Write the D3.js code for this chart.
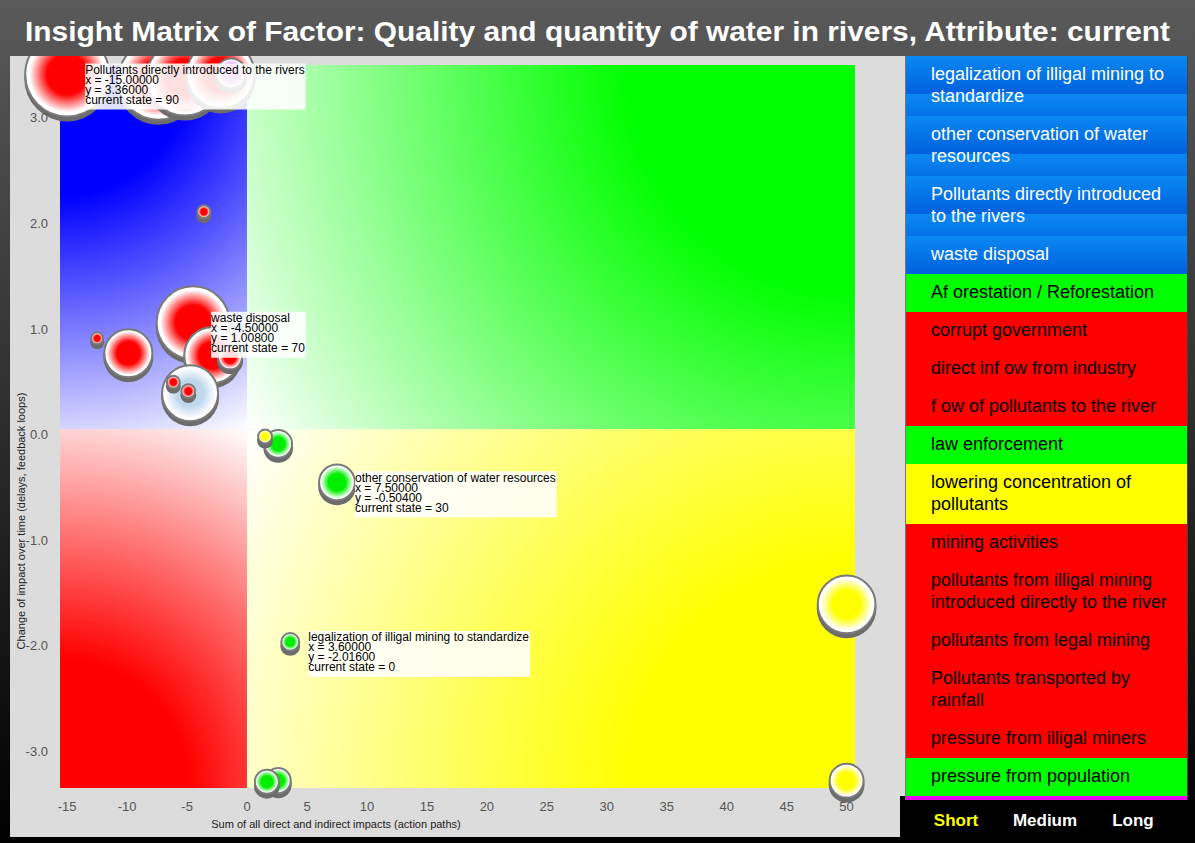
<!DOCTYPE html>
<html><head><meta charset="utf-8">
<script src="https://cdn.jsdelivr.net/npm/d3@7"></script>
<style>html,body{margin:0;padding:0;background:#000;overflow:hidden}svg{display:block}</style>
</head><body>
<svg id="c" width="1195" height="843"></svg>
<script>
// ---------------- data ----------------
const titleText = "Insight Matrix of Factor: Quality and quantity of water in rivers, Attribute: current";
const xLabel = "Sum of all direct and indirect impacts (action paths)";
const yLabel = "Change of impact over time (delays, feedback loops)";
const xTicks = [-15, -10, -5, 0, 5, 10, 15, 20, 25, 30, 35, 40, 45, 50];
const yTicks = [3, 2, 1, 0, -1, -2, -3];
const xDomain = [-15.6, 50.7];
const yDomain = [-3.4, 3.45];

// bubbles (x = sum of impacts, y = change over time, size = bubble weight, kind = colour class)
const bubbleLabel = ["Pollutants directly introduced to the rivers", null, null, null, null, null, null, null,
  "waste disposal", null, null, null, null, null, null, null,
  "other conservation of water resources", "legalization of illigal mining to standardize", null, null, null, null];
const bubbleX = [-15, -7.4, -5.2, -2.2, -1.33, -3.6, -12.5, -9.9, -4.5, -2.9, -1.42, -4.75, -6.15, -4.9, 1.5, 2.6, 7.5, 3.6, 1.65, 2.6, 50, 50];
const bubbleY = [3.36, 3.31, 3.33, 3.36, 3.37, 2.06, 0.86, 0.72, 1.008, 0.70, 0.68, 0.34, 0.445, 0.36, -0.07, -0.14, -0.504, -2.016, -3.34, -3.33, -1.66, -3.33];
const bubbleSize = [110, 100, 90, 72, 14, 2.6, 2.25, 36, 83, 49, 9, 49, 2.6, 3, 3, 12, 20, 5, 9, 9.8, 52, 18];
const bubbleKind = ["red", "red", "red", "red", "magenta", "red", "red", "red", "red", "red", "red", "light", "red", "red",
  "yellow", "green", "green", "green", "green", "green", "yellow", "yellow"];
const annotatedNames = ["Pollutants directly introduced to the rivers", "waste disposal", "other conservation of water resources", "legalization of illigal mining to standardize"];
const annotatedState = [90, 70, 30, 0];

// legend
const legendLabels = ["legalization of illigal mining to standardize", "other conservation of water resources",
  "Pollutants directly introduced to the rivers", "waste disposal", "Af orestation / Reforestation",
  "corrupt government", "direct inf ow from industry", "f ow of pollutants to the river", "law enforcement",
  "lowering concentration of pollutants", "mining activities", "pollutants from illigal mining introduced directly to the river",
  "pollutants from legal mining", "Pollutants transported by rainfall", "pressure from illigal miners", "pressure from population"];
const legendKind = ["selected", "selected", "selected", "selected", "green", "red", "red", "red", "green",
  "yellow", "red", "red", "red", "red", "red", "green"];
const horizonLabels = ["Short", "Medium", "Long"];

// ---------------- drawing ----------------
const FONT = "'Liberation Sans', Arial, Helvetica, sans-serif";
const svg = d3.select("#c");
const defs = svg.append("defs");

const pg = defs.append("linearGradient").attr("id", "pageBg").attr("x1", 0).attr("y1", 0).attr("x2", 0).attr("y2", 1);
pg.append("stop").attr("offset", 0).attr("stop-color", "#5a5a5a");
pg.append("stop").attr("offset", 1).attr("stop-color", "#000");
svg.append("rect").attr("width", 1195).attr("height", 843).attr("fill", "url(#pageBg)");

svg.append("text").attr("x", 597.5).attr("y", 41).attr("text-anchor", "middle")
  .attr("font-family", FONT).attr("font-weight", "bold").attr("font-size", 28).attr("fill", "#fff")
  .attr("textLength", 1145).attr("lengthAdjust", "spacingAndGlyphs").text(titleText);

const panel = {x0: 10, y0: 56, x1: 905, y1: 837};
svg.append("rect").attr("x", panel.x0).attr("y", panel.y0).attr("width", panel.x1 - panel.x0).attr("height", panel.y1 - panel.y0).attr("fill", "#dcdcdc");
defs.append("clipPath").attr("id", "panelClip").append("rect")
  .attr("x", panel.x0).attr("y", panel.y0).attr("width", panel.x1 - panel.x0).attr("height", panel.y1 - panel.y0);

const x = d3.scaleLinear().domain(xDomain).range([60, 855]);
const y = d3.scaleLinear().domain(yDomain).range([788, 65]);
const r = d3.scaleSqrt().domain([0, 100]).range([0, 40]);

// quadrants
const quads = [
  {id: "qB", color: "#0000ff", xs: [xDomain[0], 0], ys: [0, yDomain[1]], corner: [xDomain[0], yDomain[1]]},
  {id: "qG", color: "#00ff00", xs: [0, xDomain[1]], ys: [0, yDomain[1]], corner: [xDomain[1], yDomain[1]]},
  {id: "qR", color: "#ff0000", xs: [xDomain[0], 0], ys: [yDomain[0], 0], corner: [xDomain[0], yDomain[0]]},
  {id: "qY", color: "#ffff00", xs: [0, xDomain[1]], ys: [yDomain[0], 0], corner: [xDomain[1], yDomain[0]]}
];
const chart = svg.append("g").attr("clip-path", "url(#panelClip)");
quads.forEach(q => {
  const x0 = x(q.xs[0]), x1 = x(q.xs[1]), y0 = y(q.ys[1]), y1 = y(q.ys[0]);
  const diag = Math.hypot(x1 - x0, y1 - y0);
  const g = defs.append("radialGradient").attr("id", q.id).attr("gradientUnits", "userSpaceOnUse")
    .attr("cx", x(q.corner[0])).attr("cy", y(q.corner[1])).attr("r", diag);
  g.append("stop").attr("offset", 0).attr("stop-color", q.color);
  g.append("stop").attr("offset", 0.32).attr("stop-color", q.color);
  g.append("stop").attr("offset", 1).attr("stop-color", "#fff");
  chart.append("rect").attr("x", x0).attr("y", y0).attr("width", x1 - x0).attr("height", y1 - y0).attr("fill", `url(#${q.id})`);
});

// bubble gradients
const kindColor = {red: "#ff0000", green: "#00ee00", yellow: "#ffff00", light: "#c0d8ee", magenta: "#cc55ff"};
Object.entries(kindColor).forEach(([k, c]) => {
  const g = defs.append("radialGradient").attr("id", "bub-" + k);
  g.append("stop").attr("offset", 0).attr("stop-color", c);
  g.append("stop").attr("offset", 0.48).attr("stop-color", c);
  g.append("stop").attr("offset", 0.9).attr("stop-color", "#fff");
  g.append("stop").attr("offset", 1).attr("stop-color", "#fff");
});

const bubbles = bubbleX.map((bx, i) => ({x: bx, y: bubbleY[i], s: bubbleSize[i], kind: bubbleKind[i], label: bubbleLabel[i]}))
  .sort((a, b) => b.s - a.s);
const bg = chart.append("g");
bubbles.forEach(d => {
  const cx = x(d.x), cy = y(d.y), rr = r(d.s);
  bg.append("circle").attr("cx", cx).attr("cy", cy + 4).attr("r", rr + 1).attr("fill", "#6c6c6c");
  bg.append("circle").attr("cx", cx).attr("cy", cy).attr("r", rr).attr("fill", `url(#bub-${d.kind})`)
    .attr("stroke", "#7a7a7a").attr("stroke-width", 2);
});

// annotation boxes
annotatedNames.forEach((name, i) => {
  const d = bubbles.find(b => b.label === name);
  const px = x(d.x) + 18, py = y(d.y) - 11;
  const lines = [name, `x = ${d.x.toFixed(5)}`, `y = ${d.y.toFixed(5)}`, `current state = ${annotatedState[i]}`];
  const g = chart.append("g");
  const rect = g.append("rect");
  let w = 0;
  lines.forEach((t, k) => {
    const tx = g.append("text").attr("x", px).attr("y", py + 10.5 + k * 10).attr("font-family", FONT)
      .attr("font-size", 12).attr("fill", "#000").text(t);
    w = Math.max(w, tx.node().getComputedTextLength());
  });
  rect.attr("x", px).attr("y", py).attr("width", w + 1).attr("height", 46).attr("fill", "#fff").attr("fill-opacity", 0.88);
});

// axes tick labels
svg.append("g").selectAll("text").data(xTicks).join("text")
  .attr("x", d => x(d)).attr("y", 811).attr("text-anchor", "middle").attr("font-family", FONT)
  .attr("font-size", 13).attr("fill", "#555").text(d => String(d));
svg.append("g").selectAll("text").data(yTicks).join("text")
  .attr("x", 48).attr("y", d => y(d) + 10).attr("text-anchor", "end").attr("font-family", FONT)
  .attr("font-size", 13).attr("fill", "#555").text(d => d.toFixed(1));
svg.append("text").attr("x", 336).attr("y", 828).attr("text-anchor", "middle").attr("font-family", FONT)
  .attr("font-size", 11).attr("fill", "#222").text(xLabel);
svg.append("text").attr("transform", "translate(25,521) rotate(-90)").attr("text-anchor", "middle").attr("font-family", FONT)
  .attr("font-size", 11).attr("fill", "#222").text(yLabel);

// legend panel
const LX = 906, LW = 281, LTOP = 56;
svg.append("rect").attr("x", 900).attr("y", 796).attr("width", 295).attr("height", 47).attr("fill", "#000");
const lg = svg.append("g");
const measurer = lg.append("text").attr("font-family", FONT).attr("font-size", 18).attr("opacity", 0);
function wrap(text, maxW) {
  const words = text.split(" "), lines = [];
  let cur = "";
  words.forEach(wd => {
    const test = cur ? cur + " " + wd : wd;
    measurer.text(test);
    if (measurer.node().getComputedTextLength() > maxW && cur) { lines.push(cur); cur = wd; }
    else cur = test;
  });
  if (cur) lines.push(cur);
  return lines;
}
const kindFill = {green: "#00ff00", red: "#ff0000", yellow: "#ffff00"};
let yy = LTOP;
legendLabels.forEach((lab, i) => {
  const lines = wrap(lab, 248);
  const h = 16 + 22 * lines.length;
  const kind = legendKind[i];
  let fill;
  if (kind === "selected") {
    const pid = "bluePat" + i;
    const p = defs.append("pattern").attr("id", pid).attr("patternUnits", "userSpaceOnUse")
      .attr("x", LX).attr("y", yy).attr("width", LW).attr("height", 38);
    const gid = "blueGrad" + i;
    const gr = defs.append("linearGradient").attr("id", gid).attr("x1", 0).attr("y1", 0).attr("x2", 0).attr("y2", 1);
    gr.append("stop").attr("offset", 0).attr("stop-color", "#0a88f2");
    gr.append("stop").attr("offset", 1).attr("stop-color", "#0060de");
    p.append("rect").attr("width", LW).attr("height", 38).attr("fill", `url(#${gid})`);
    fill = `url(#${pid})`;
  } else fill = kindFill[kind];
  lg.append("rect").attr("x", LX).attr("y", yy).attr("width", LW).attr("height", h).attr("fill", fill);
  lines.forEach((t, k) => {
    lg.append("text").attr("x", 931).attr("y", yy + 24 + 22 * k).attr("font-family", FONT).attr("font-size", 18)
      .attr("fill", kind === "selected" ? "#fff" : "#000").text(t);
  });
  yy += h;
});
lg.append("rect").attr("x", LX).attr("y", yy).attr("width", LW).attr("height", 4).attr("fill", "#f000f0");
lg.append("line").attr("x1", 905.5).attr("x2", 905.5).attr("y1", LTOP).attr("y2", yy + 4).attr("stroke", "#777");
lg.append("line").attr("x1", 1187.5).attr("x2", 1187.5).attr("y1", LTOP).attr("y2", yy + 4).attr("stroke", "#444");

const hx = [956, 1045, 1133];
svg.append("g").selectAll("text").data(horizonLabels).join("text")
  .attr("x", (d, i) => hx[i]).attr("y", 826).attr("text-anchor", "middle").attr("font-family", FONT)
  .attr("font-weight", "bold").attr("font-size", 17).attr("fill", (d, i) => i === 0 ? "#ffff00" : "#fff").text(d => d);
</script>
</body></html>
